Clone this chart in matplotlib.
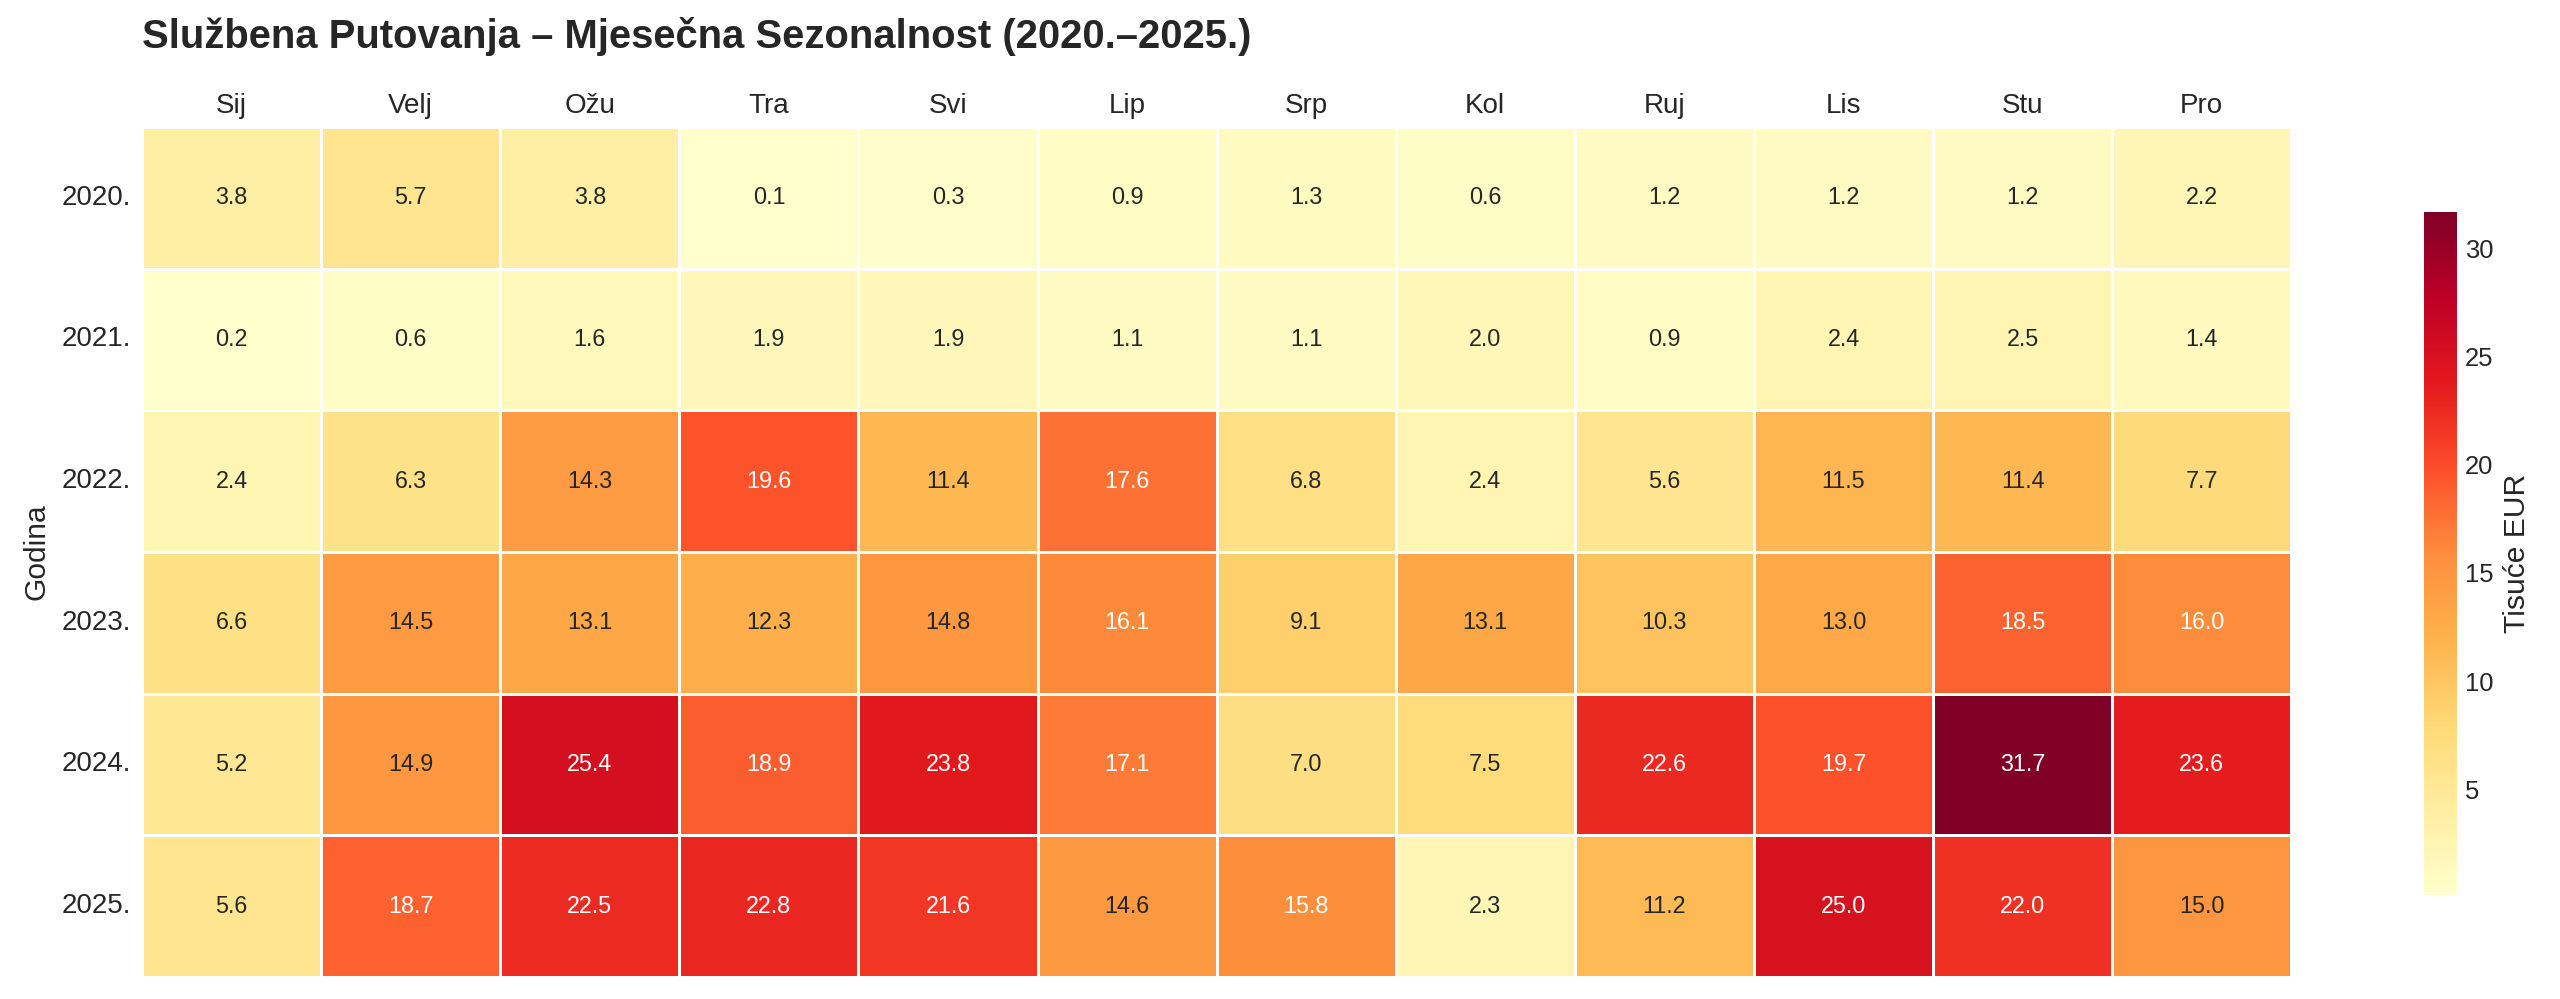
import numpy as np
import pandas as pd
import matplotlib
matplotlib.use("Agg")
import matplotlib.pyplot as plt
import seaborn as sns

months = ['Sij', 'Velj', 'Ožu', 'Tra', 'Svi', 'Lip', 'Srp', 'Kol', 'Ruj', 'Lis', 'Stu', 'Pro']
years = ['2020.', '2021.', '2022.', '2023.', '2024.', '2025.']

# tisuce EUR po mjesecu
y2020 = [3.8, 5.7, 3.8, 0.1, 0.3, 0.9, 1.3, 0.6, 1.2, 1.2, 1.2, 2.2]
y2021 = [0.2, 0.6, 1.6, 1.9, 1.9, 1.1, 1.1, 2.0, 0.9, 2.4, 2.5, 1.4]
y2022 = [2.4, 6.3, 14.3, 19.6, 11.4, 17.6, 6.8, 2.4, 5.6, 11.5, 11.4, 7.7]
y2023 = [6.6, 14.5, 13.1, 12.3, 14.8, 16.1, 9.1, 13.1, 10.3, 13.0, 18.5, 16.0]
y2024 = [5.2, 14.9, 25.4, 18.9, 23.8, 17.1, 7.0, 7.5, 22.6, 19.7, 31.7, 23.6]
y2025 = [5.6, 18.7, 22.5, 22.8, 21.6, 14.6, 15.8, 2.3, 11.2, 25.0, 22.0, 15.0]

df = pd.DataFrame([y2020, y2021, y2022, y2023, y2024, y2025], index=years, columns=months)

sns.set_style("whitegrid")
plt.rcParams['font.family'] = ['Liberation Sans', 'DejaVu Sans']

fig = plt.figure(figsize=(16, 6.24375), dpi=160)
ax = fig.add_axes([0.0555, 0.022, 0.8395, 0.851])
cax = fig.add_axes([0.947, 0.104, 0.0129, 0.684])

sns.heatmap(df, ax=ax, cbar_ax=cax, cmap='YlOrRd', annot=True, fmt='.1f',
            linewidths=0.6, linecolor='white', annot_kws={'fontsize': 10.5},
            cbar_kws={'label': 'Tisuće EUR'})

ax.xaxis.tick_top()
ax.tick_params(axis='both', length=0, labelsize=12.5)
ax.tick_params(axis='x', pad=3.5)
ax.tick_params(axis='y', pad=5)
plt.setp(ax.get_yticklabels(), rotation=0)
ax.set_xlabel('')
ax.set_ylabel('Godina', fontsize=13.5, labelpad=5)
fig.text(0.0555, 0.963, 'Službena Putovanja – Mjesečna Sezonalnost (2020.–2025.)',
         ha='left', va='center', fontsize=18, fontweight='bold', color='#262626')

cax.tick_params(labelsize=11.5, length=0)
cax.set_ylabel('Tisuće EUR', fontsize=13.5)

fig.savefig('out.png', dpi=160)
